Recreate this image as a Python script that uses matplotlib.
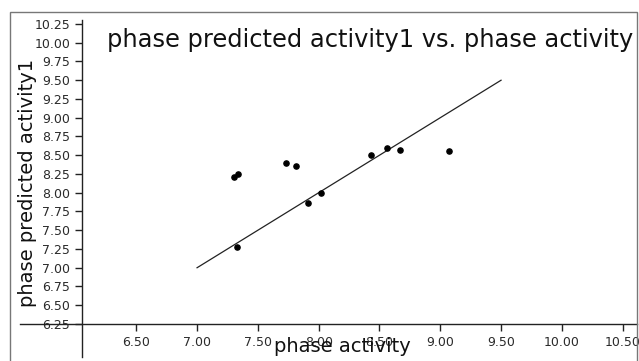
import matplotlib
matplotlib.use("Agg")
import matplotlib.pyplot as plt
from matplotlib.patches import Rectangle
import numpy as np

phase_activity = [7.30, 7.34, 7.73, 7.81, 7.91, 8.02, 7.33, 8.43, 8.56, 8.67, 9.07]
predicted_activity1 = [8.21, 8.25, 8.39, 8.36, 7.86, 7.99, 7.27, 8.50, 8.59, 8.57, 8.56]
line_x = [7.0, 9.5]
line_y = [7.0, 9.5]
x_ticks = [6.5, 7.0, 7.5, 8.0, 8.5, 9.0, 9.5, 10.0, 10.5]
y_ticks = [6.25, 6.5, 6.75, 7.0, 7.25, 7.5, 7.75, 8.0, 8.25, 8.5, 8.75, 9.0, 9.25, 9.5, 9.75, 10.0, 10.25]

W, H = 639, 361
fig = plt.figure(figsize=(W / 100, H / 100), dpi=100)
fig.patch.set_facecolor("white")

# outer frame
fig.add_artist(Rectangle((10 / W, -0.05), (637 - 10) / W, 1.05 - 12 / H,
                         transform=fig.transFigure, fill=False,
                         edgecolor="#777777", linewidth=1.0))

ax = fig.add_axes([20 / W, (H - 357) / H, (637 - 20) / W, (357 - 20) / H])
ax.set_facecolor("white")
ax.set_xlim(5.544, 10.618)
ax.set_ylim(5.81, 10.303)

ax.plot(line_x, line_y, color="#222222", linewidth=0.9)
ax.scatter(phase_activity, predicted_activity1, s=14, color="black", zorder=3)

ax.spines["top"].set_visible(False)
ax.spines["right"].set_visible(False)
ax.spines["left"].set_position(("data", 6.053))
ax.spines["bottom"].set_position(("data", 6.25))
for s in ("left", "bottom"):
    ax.spines[s].set_color("#222222")
    ax.spines[s].set_linewidth(1.0)

ax.set_xticks(x_ticks)
ax.set_xticklabels([f"{v:.2f}" for v in x_ticks])
ax.set_yticks(y_ticks)
ax.set_yticklabels([f"{v:.2f}" for v in y_ticks])
ax.tick_params(axis="both", labelsize=9, labelcolor="#2a2a2a", color="#222222",
               length=5, width=1.0, direction="out")

fig.text(107 / W, 1 - 40 / H, "phase predicted activity1 vs. phase activity",
         fontsize=17.4, ha="left", va="center", color="#111111")
fig.text(28 / W, 1 - 183 / H, "phase predicted activity1", fontsize=14,
         rotation=90, ha="center", va="center", color="#111111")
fig.text(342 / W, 1 - 347 / H, "phase activity", fontsize=14,
         ha="center", va="center", color="#111111")

fig.savefig("out.png", dpi=100)
